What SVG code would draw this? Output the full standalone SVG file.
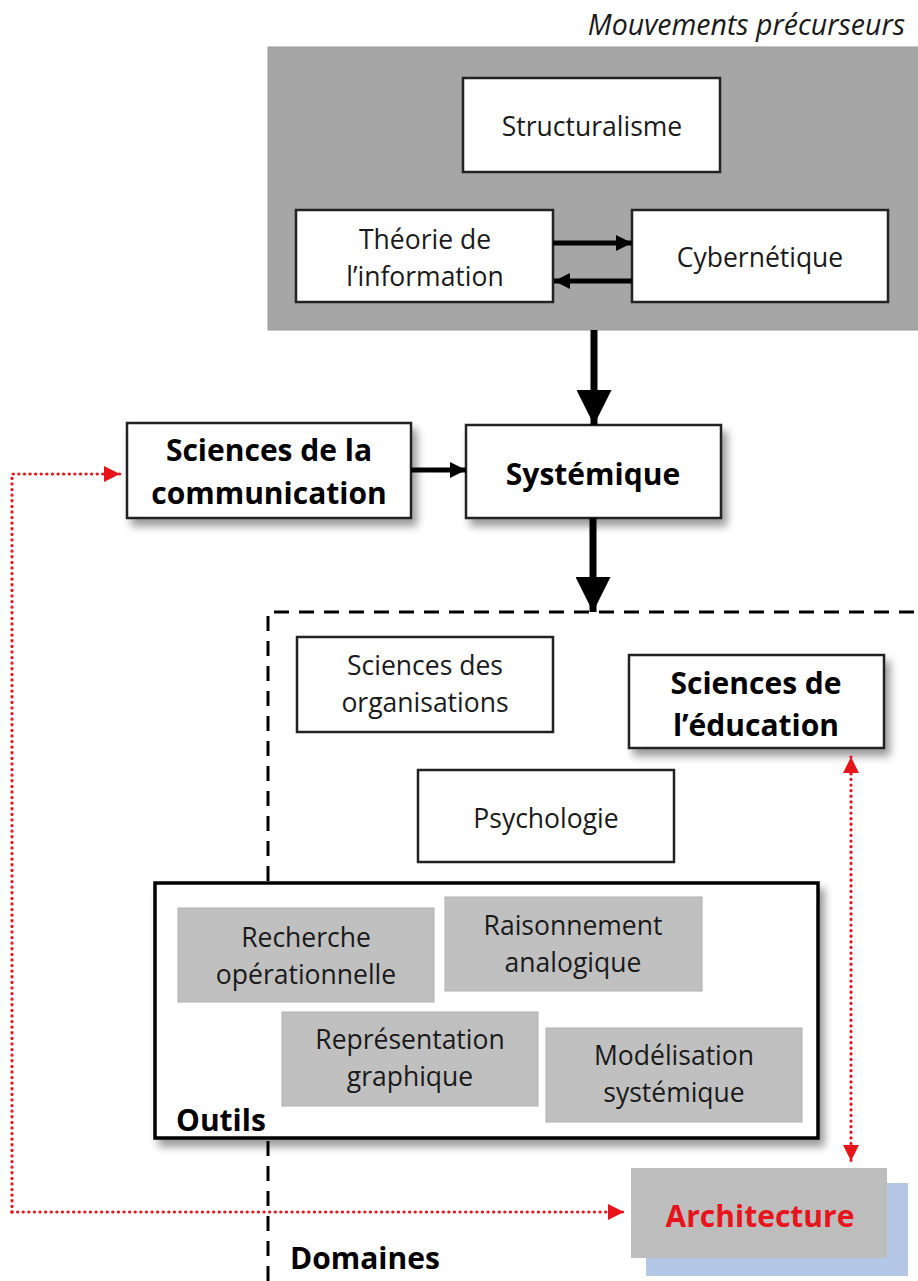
<svg xmlns="http://www.w3.org/2000/svg" width="918" height="1281" viewBox="0 0 918 1281">
  <defs>
    <filter id="shadow" x="-10%" y="-10%" width="130%" height="140%">
      <feGaussianBlur in="SourceAlpha" stdDeviation="4"/>
      <feOffset dx="5" dy="7" result="b"/>
      <feComponentTransfer><feFuncA type="linear" slope="0.4"/></feComponentTransfer>
      <feMerge><feMergeNode/><feMergeNode in="SourceGraphic"/></feMerge>
    </filter>
    <marker id="ah" viewBox="0 0 10 10" refX="10" refY="5" markerWidth="3.2" markerHeight="3.2" orient="auto" markerUnits="strokeWidth">
      <path d="M0,0 L10,5 L0,10 z" fill="#000"/>
    </marker>
    <marker id="ahBig" viewBox="0 0 10 10" refX="10" refY="5" markerWidth="5" markerHeight="5" orient="auto" markerUnits="strokeWidth">
      <path d="M0,0 L10,5 L0,10 z" fill="#000"/>
    </marker>
    <marker id="ahRed" viewBox="0 0 10 10" refX="10" refY="5" markerWidth="5" markerHeight="5" orient="auto-start-reverse" markerUnits="strokeWidth">
      <path d="M0,0 L10,5 L0,10 z" fill="#e8141c"/>
    </marker>
    <style>
      text { font-family: "Open Sans", Lato, "Liberation Sans", sans-serif; fill: #1a1a1a; text-anchor: middle; }
      .reg { font-size: 26.5px; }
      .bold { font-size: 30px; font-weight: bold; fill: #000; }
      .box { fill: #fff; stroke: #222; stroke-width: 2.5; }
      .tool { fill: #c0c0c0; stroke: #b0b0b0; stroke-width: 1; }
      .arrow { stroke: #000; fill: none; }
      .red { stroke: #e8141c; stroke-width: 3.2; stroke-dasharray: 0.1 5.5; stroke-linecap: round; fill: none; }
      .dash { stroke: #000; stroke-width: 3; stroke-dasharray: 15 10; fill: none; }
    </style>
  </defs>

  <rect width="918" height="1281" fill="#fff"/>

  <!-- precursor movements panel -->
  <g id="precurseurs">
    <text x="905" y="35" style="font-size:28.5px;font-style:italic;text-anchor:end">Mouvements précurseurs</text>
    <rect x="268" y="47" width="652" height="283" fill="#a6a6a6" stroke="#9a9a9a" stroke-width="1"/>
  </g>
  <g id="structuralisme">
    <rect class="box" x="463" y="78" width="257" height="94"/>
    <text class="reg" x="592" y="136">Structuralisme</text>
  </g>
  <g id="theorie-information">
    <rect class="box" x="296" y="210" width="257" height="92"/>
    <text class="reg" x="425" y="249">Théorie de</text>
    <text class="reg" x="425" y="286">l’information</text>
  </g>
  <g id="cybernetique">
    <rect class="box" x="632" y="210" width="256" height="92"/>
    <text class="reg" x="760" y="267">Cybernétique</text>
  </g>

  <!-- domains frame (dashed) -->
  <g id="domaines">
    <path class="dash" d="M268,1281 L268,612 L918,612"/>
    <text class="bold" x="290" y="1269" style="text-anchor:start">Domaines</text>
  </g>

  <g id="communication">
    <rect class="box" x="127" y="423" width="284" height="95" filter="url(#shadow)"/>
    <text class="bold" x="269" y="461">Sciences de la</text>
    <text class="bold" x="269" y="504">communication</text>
  </g>
  <g id="systemique">
    <rect class="box" x="466" y="425" width="255" height="93" filter="url(#shadow)"/>
    <text class="bold" x="593" y="485">Systémique</text>
  </g>
  <g id="organisations">
    <rect class="box" x="297" y="637" width="256" height="95"/>
    <text class="reg" x="425" y="675">Sciences des</text>
    <text class="reg" x="425" y="712">organisations</text>
  </g>
  <g id="education">
    <rect class="box" x="629" y="655" width="255" height="93" filter="url(#shadow)"/>
    <text class="bold" x="756" y="694">Sciences de</text>
    <text class="bold" x="756" y="736">l’éducation</text>
  </g>
  <g id="psychologie">
    <rect class="box" x="418" y="770" width="256" height="92"/>
    <text class="reg" x="546" y="828">Psychologie</text>
  </g>

  <!-- tools frame -->
  <g id="outils">
    <rect x="155" y="883" width="663" height="255" fill="#fff" stroke="#000" stroke-width="3.5" filter="url(#shadow)"/>
    <text class="bold" x="176" y="1131" style="text-anchor:start">Outils</text>
  </g>
  <g id="recherche">
    <rect class="tool" x="178" y="908" width="256" height="94"/>
    <text class="reg" x="306" y="947">Recherche</text>
    <text class="reg" x="306" y="984">opérationnelle</text>
  </g>
  <g id="raisonnement">
    <rect class="tool" x="445" y="897" width="257" height="94"/>
    <text class="reg" x="573" y="935">Raisonnement</text>
    <text class="reg" x="573" y="972">analogique</text>
  </g>
  <g id="representation">
    <rect class="tool" x="282" y="1012" width="256" height="94"/>
    <text class="reg" x="410" y="1049">Représentation</text>
    <text class="reg" x="410" y="1086">graphique</text>
  </g>
  <g id="modelisation">
    <rect class="tool" x="546" y="1028" width="256" height="94"/>
    <text class="reg" x="674" y="1065">Modélisation</text>
    <text class="reg" x="674" y="1102">systémique</text>
  </g>

  <g id="architecture">
    <rect x="646" y="1183" width="262" height="93" fill="#b4c7e7"/>
    <rect x="631" y="1168" width="256" height="90" fill="#bdbdbd"/>
    <text class="bold" x="760" y="1227" style="fill:#e8141c">Architecture</text>
  </g>

  <!-- connectors -->
  <g id="connectors">
    <line class="arrow" x1="553" y1="243" x2="632" y2="243" stroke-width="5" marker-end="url(#ah)"/>
    <line class="arrow" x1="632" y1="281" x2="554" y2="281" stroke-width="5" marker-end="url(#ah)"/>
    <line class="arrow" x1="594" y1="330" x2="594" y2="425" stroke-width="7" marker-end="url(#ahBig)"/>
    <line class="arrow" x1="411" y1="470" x2="466" y2="470" stroke-width="5" marker-end="url(#ah)"/>
    <line class="arrow" x1="593" y1="518" x2="593" y2="612" stroke-width="7" marker-end="url(#ahBig)"/>
    <path class="red" d="M12,1212 L12,474 L120,474" marker-end="url(#ahRed)"/>
    <path class="red" d="M12,1212 L624,1212" marker-end="url(#ahRed)"/>
    <path class="red" d="M851,757 L851,1161" marker-start="url(#ahRed)" marker-end="url(#ahRed)"/>
  </g>
</svg>
